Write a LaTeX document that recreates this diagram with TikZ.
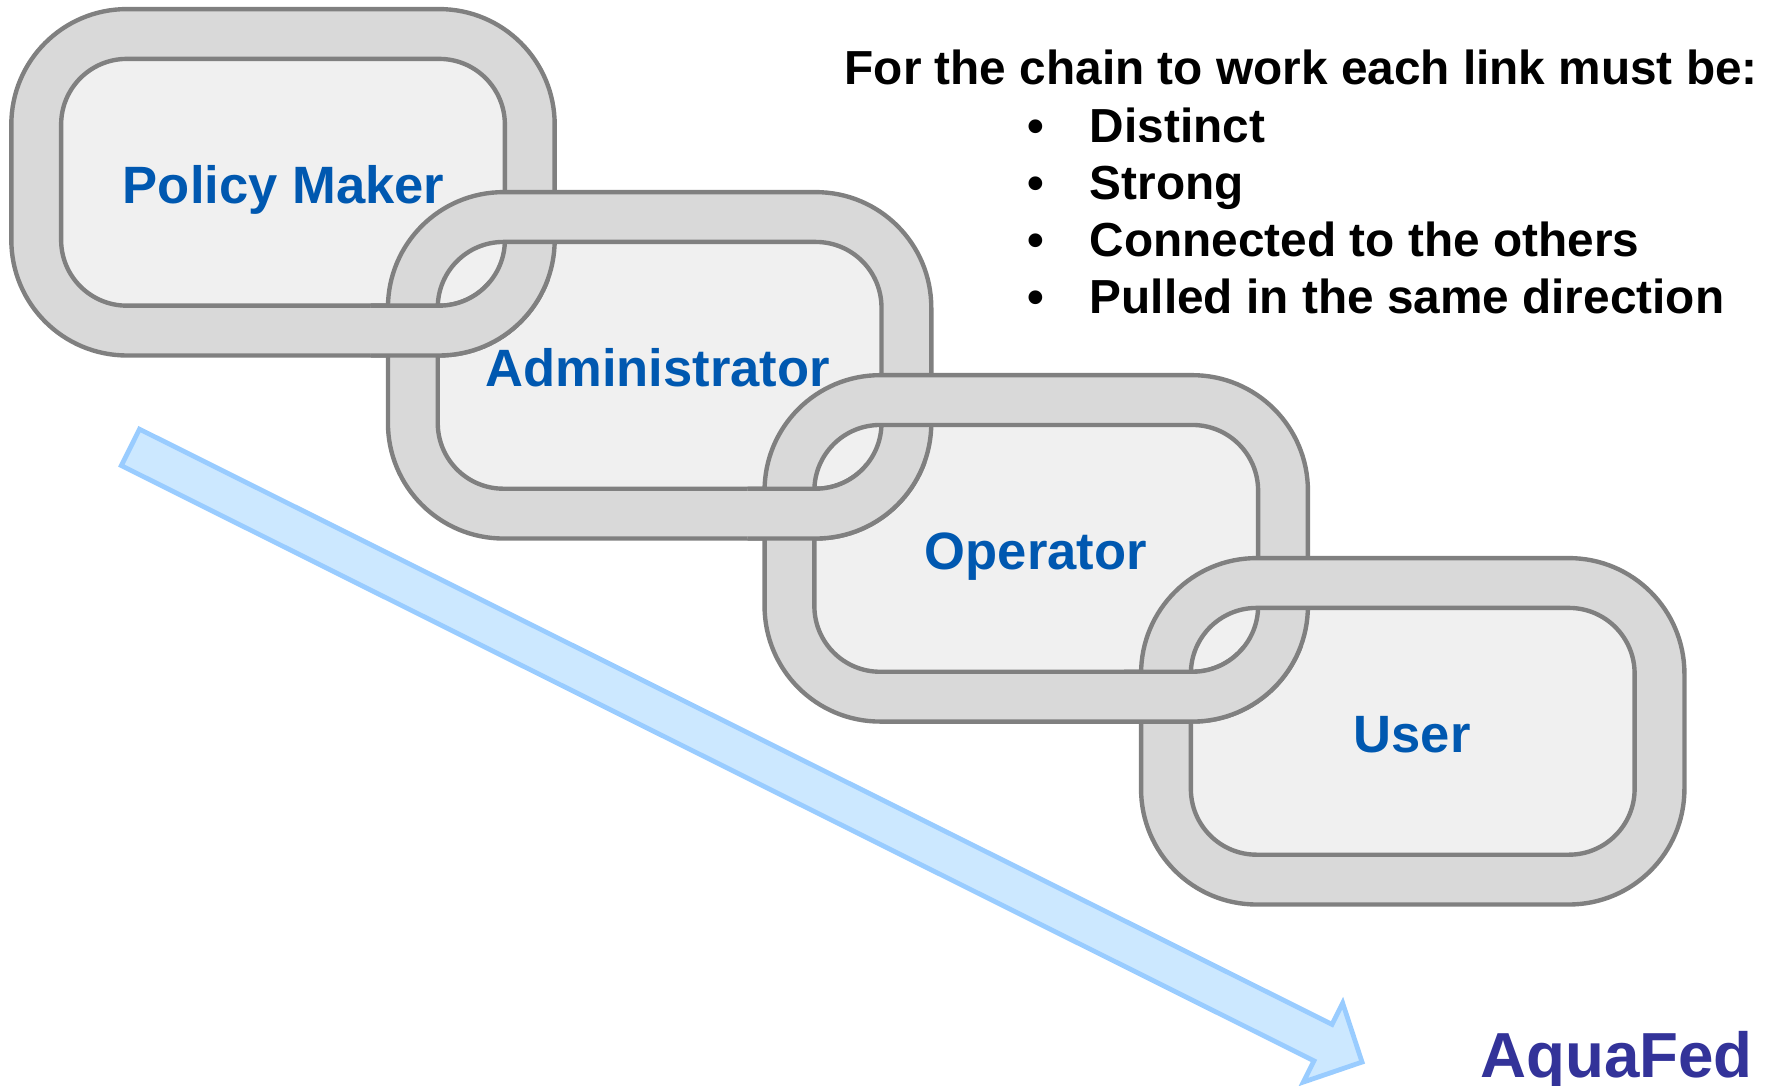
\documentclass[tikz,border=0pt]{standalone}
\usepackage{fontspec}
\setmainfont{Liberation Sans}
\definecolor{ringgray}{HTML}{D9D9D9}
\definecolor{edgegray}{HTML}{808080}
\definecolor{holegray}{HTML}{F0F0F0}
\definecolor{linkblue}{HTML}{0058B0}
\definecolor{aquablue}{HTML}{333399}
\definecolor{arrowfill}{HTML}{CCE8FF}
\definecolor{arrowedge}{HTML}{99CCFF}
\tikzset{
  ringstyle/.style={fill=ringgray, draw=edgegray, line width=1.1pt, even odd rule},
  holestyle/.style={fill=holegray},
  linklabel/.style={text=linkblue, font=\fontsize{13.2pt}{15pt}\selectfont\bfseries, anchor=base, inner sep=0pt},
  listtext/.style={text=black, font=\fontsize{12pt}{14pt}\selectfont\bfseries, inner sep=0pt},
  flowarrow/.style={fill=arrowfill, draw=arrowedge, line width=1.2pt, line join=miter},
}
\newcommand{\chainring}[2]{%
  \path[ringstyle, rounded corners=10.2mm] (#1,#2) rectangle ++(480,306)
    [rounded corners=5.8mm] (#1+44,#2+44) rectangle ++(392,218);}
\newcommand{\chainhole}[2]{%
  \path[holestyle, rounded corners=5.8mm] (#1+44,#2+44) rectangle ++(392,218);}
\newcommand{\chainover}[3]{%
  \begin{scope}
    \clip (#3-15,#2+240) rectangle (#1+500,#2+325);
    \chainring{#1}{#2}
  \end{scope}}
\begin{document}
\begin{tikzpicture}[x=0.01cm, y=-0.01cm]
\useasboundingbox (0,0) rectangle (1568,959);
% flow arrow
\path[flowarrow] (123.2,379.1) -- (1176.7,904.9) -- (1186.1,886.1) -- (1203.2,938.2)
  -- (1151.3,955.9) -- (1160.7,937.1) -- (107.2,411.3) -- cycle;
% holes
\chainhole{10}{8}
\chainhole{342.7}{169.7}
\chainhole{675.4}{331.4}
\chainhole{1008}{493}
% rings with interlocking
\chainring{10}{8}
\chainring{342.7}{169.7}
\chainover{10}{8}{342.7}
\chainring{675.4}{331.4}
\chainover{342.7}{169.7}{675.4}
\chainring{1008}{493}
\chainover{675.4}{331.4}{1008}
% labels
\node[linklabel] (pm) at (250.5,180) {Policy Maker};
\node[linklabel] (adm) at (581,341.6) {Administrator};
\node[linklabel] (op) at (915,503.3) {Operator};
\node[linklabel] (usr) at (1247.5,665) {User};
% header and list
\node[listtext, anchor=base] (head) at (1149.5,75) {For the chain to work each link must be:};
\node[listtext, anchor=base] (d1) at (915,125.5) {•};
\node[listtext, anchor=base west] (t1) at (962,125.5) {Distinct};
\node[listtext, anchor=base] (d2) at (915,176) {•};
\node[listtext, anchor=base west] (t2) at (962,176) {Strong};
\node[listtext, anchor=base] (d3) at (915,226.5) {•};
\node[listtext, anchor=base west] (t3) at (962,226.5) {Connected to the others};
\node[listtext, anchor=base] (d4) at (915,277) {•};
\node[listtext, anchor=base west] (t4) at (962,277) {Pulled in the same direction};
% logo text
\node[text=aquablue, font=\fontsize{16pt}{19pt}\selectfont\bfseries, anchor=base, inner sep=0pt] (aqua) at (1428,951.7) {AquaFed};
\end{tikzpicture}
\end{document}
